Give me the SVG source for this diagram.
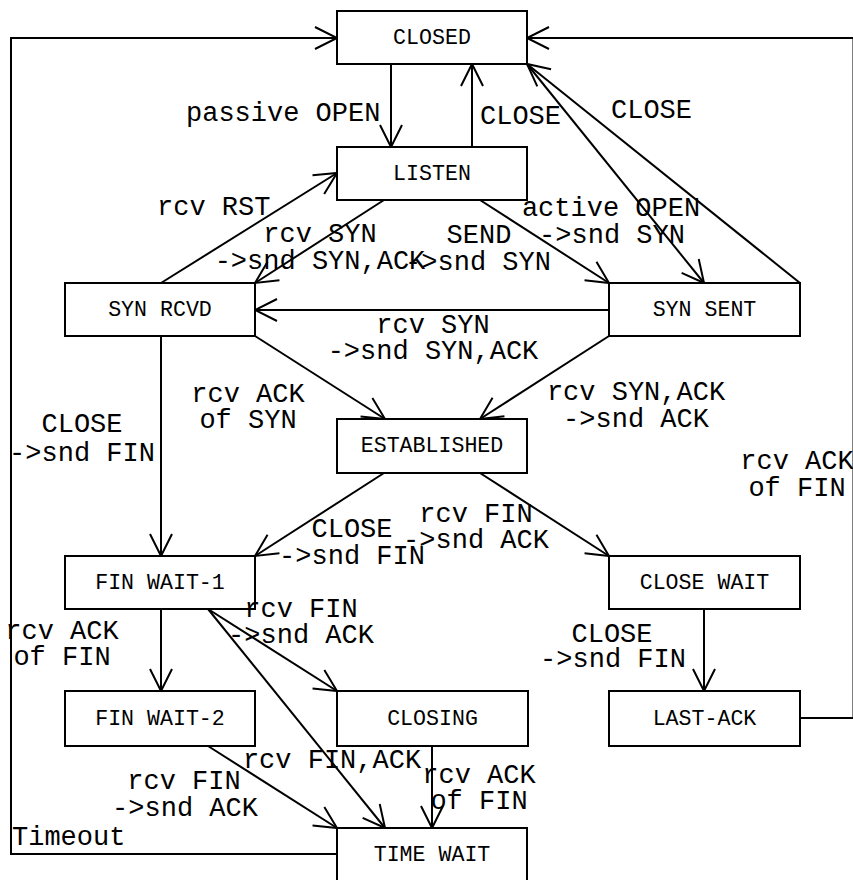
<svg xmlns="http://www.w3.org/2000/svg" width="853" height="880" viewBox="0 0 853 880">
<style>
.box{fill:#fff;stroke:#000;stroke-width:2}
.bt{font-family:"Liberation Mono","Courier New",monospace;font-size:21.6px;fill:#000;text-anchor:middle}
.c{fill:none;stroke:#000;stroke-width:2}
.a{marker-end:url(#arr)}
.lb{font-family:"Liberation Mono","Courier New",monospace;font-size:27px;fill:#000}
.m{text-anchor:middle}
</style>
<defs>
<marker id="arr" markerUnits="userSpaceOnUse" viewBox="-26 -14 30 28" markerWidth="30" markerHeight="28" refX="0" refY="0" orient="auto" overflow="visible">
<path d="M-22,-11 L0,0 L-22,11" fill="none" stroke="#000" stroke-width="2"/>
</marker>
</defs>
<rect width="853" height="880" fill="#fff"/>
<g id="connectors">
<path class="c a" d="M337,854 H11 V38 H337"/>
<path class="c a" d="M800,718 H853.5 V38 H527"/>
<path class="c a" d="M391,64 V147"/>
<path class="c a" d="M472,147 V64"/>
<path class="c a" d="M800,283 L527,64"/>
<path class="c a" d="M527,64 L704,283"/>
<path class="c a" d="M480,200 L609,283"/>
<path class="c a" d="M384,200 L255,283"/>
<path class="c a" d="M161,283 L337,173"/>
<path class="c a" d="M609,310 L255,310"/>
<path class="c a" d="M255,336 L385,419"/>
<path class="c a" d="M609,336 L480,419"/>
<path class="c a" d="M161,336 V556"/>
<path class="c a" d="M384,473 L255,556"/>
<path class="c a" d="M480,473 L609,556"/>
<path class="c a" d="M161,609 V691"/>
<path class="c a" d="M208,609 L337,691"/>
<path class="c a" d="M208,609 L385,828"/>
<path class="c a" d="M208,746 L337,828"/>
<path class="c a" d="M432,746 V828"/>
<path class="c a" d="M704,609 V691"/>
</g>
<g id="nodes">
<g id="closed"><rect class="box" x="337" y="11" width="190" height="53"/><text class="bt" x="432" y="44">CLOSED</text></g>
<g id="listen"><rect class="box" x="337" y="147" width="190" height="53"/><text class="bt" x="432" y="180">LISTEN</text></g>
<g id="syn-rcvd"><rect class="box" x="65" y="283" width="190" height="53"/><text class="bt" x="160" y="316">SYN RCVD</text></g>
<g id="syn-sent"><rect class="box" x="609" y="283" width="191" height="53"/><text class="bt" x="704.5" y="316">SYN SENT</text></g>
<g id="established"><rect class="box" x="337" y="419" width="190" height="54"/><text class="bt" x="432" y="452">ESTABLISHED</text></g>
<g id="fin-wait-1"><rect class="box" x="65" y="556" width="190" height="53"/><text class="bt" x="160" y="589">FIN WAIT-1</text></g>
<g id="close-wait"><rect class="box" x="609" y="556" width="191" height="53"/><text class="bt" x="704.5" y="589">CLOSE WAIT</text></g>
<g id="fin-wait-2"><rect class="box" x="65" y="691" width="190" height="55"/><text class="bt" x="160" y="725">FIN WAIT-2</text></g>
<g id="closing"><rect class="box" x="337" y="691" width="191" height="55"/><text class="bt" x="432.5" y="725">CLOSING</text></g>
<g id="last-ack"><rect class="box" x="609" y="691" width="191" height="55"/><text class="bt" x="704.5" y="725">LAST-ACK</text></g>
<g id="time-wait"><rect class="box" x="337" y="828" width="190" height="53"/><text class="bt" x="432" y="861">TIME WAIT</text></g>
</g>
<g id="labels">
<text class="lb" x="186" y="121">passive OPEN</text>
<text class="lb" x="480" y="124">CLOSE</text>
<text class="lb" x="611" y="118">CLOSE</text>
<text class="lb" x="157" y="215">rcv RST</text>
<text class="lb m" x="320" y="242">rcv SYN</text>
<text class="lb m" x="320" y="269">-&gt;snd SYN,ACK</text>
<text class="lb m" x="479" y="243">SEND</text>
<text class="lb m" x="478" y="270">-&gt;snd SYN</text>
<text class="lb m" x="611" y="216">active OPEN</text>
<text class="lb m" x="612" y="243">-&gt;snd SYN</text>
<text class="lb m" x="433" y="333">rcv SYN</text>
<text class="lb m" x="433" y="359">-&gt;snd SYN,ACK</text>
<text class="lb m" x="248" y="402">rcv ACK</text>
<text class="lb m" x="248" y="428">of SYN</text>
<text class="lb m" x="636" y="400">rcv SYN,ACK</text>
<text class="lb m" x="636" y="427">-&gt;snd ACK</text>
<text class="lb m" x="82" y="432">CLOSE</text>
<text class="lb m" x="82" y="461">-&gt;snd FIN</text>
<text class="lb m" x="352" y="537">CLOSE</text>
<text class="lb m" x="352" y="564">-&gt;snd FIN</text>
<text class="lb m" x="476" y="522">rcv FIN</text>
<text class="lb m" x="476" y="548">-&gt;snd ACK</text>
<text class="lb m" x="797" y="469">rcv ACK</text>
<text class="lb m" x="797" y="496">of FIN</text>
<text class="lb m" x="301" y="617">rcv FIN</text>
<text class="lb m" x="301" y="643">-&gt;snd ACK</text>
<text class="lb m" x="62" y="639">rcv ACK</text>
<text class="lb m" x="62" y="665">of FIN</text>
<text class="lb m" x="612" y="642">CLOSE</text>
<text class="lb m" x="613" y="667">-&gt;snd FIN</text>
<text class="lb m" x="332" y="768">rcv FIN,ACK</text>
<text class="lb m" x="184" y="789">rcv FIN</text>
<text class="lb m" x="185" y="816">-&gt;snd ACK</text>
<text class="lb m" x="479" y="783">rcv ACK</text>
<text class="lb m" x="479" y="809">of FIN</text>
<text class="lb" x="12" y="845">Timeout</text>
</g>
</svg>
